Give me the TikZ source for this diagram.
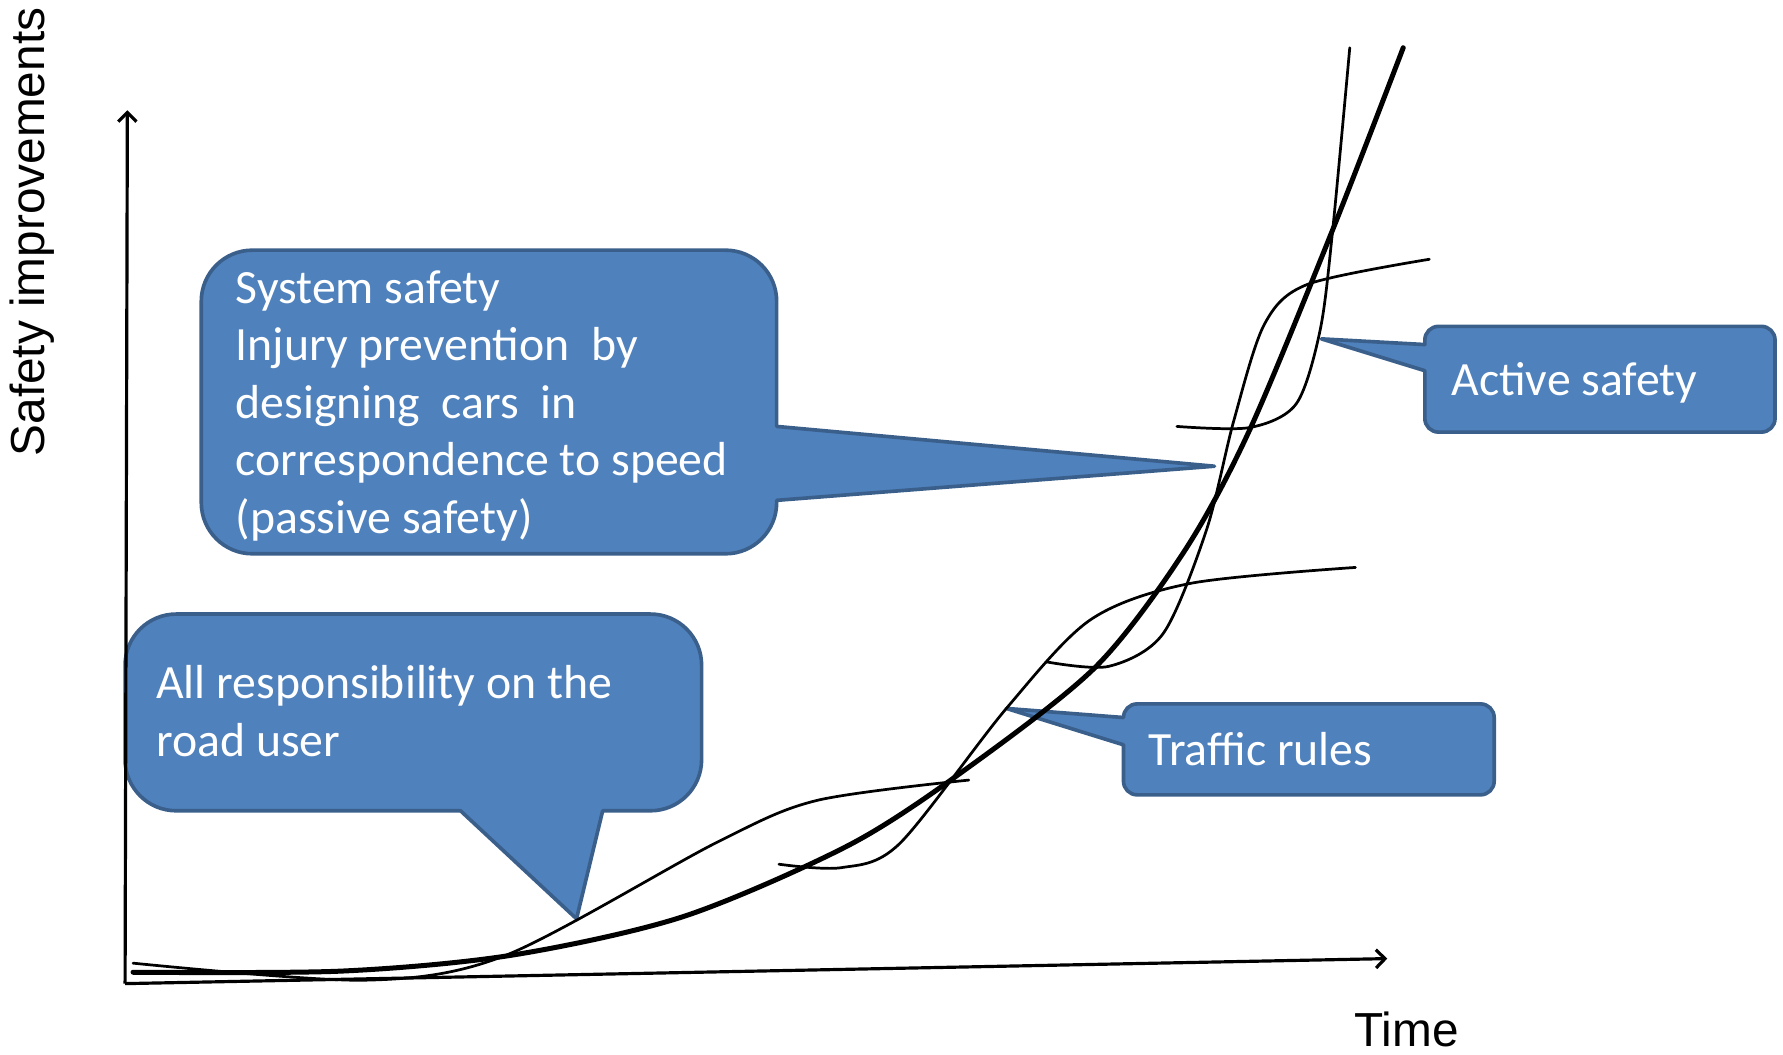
\documentclass[tikz,border=0pt]{standalone}
\usepackage{fontspec}
\setmainfont{Carlito}
\newfontfamily\axisfont{Liberation Sans}
\usetikzlibrary{positioning,arrows.meta}
\definecolor{callfill}{HTML}{4F81BD}
\definecolor{calldraw}{HTML}{3A5F8B}

\begin{document}
\begin{tikzpicture}[x=0.5pt, y=-0.5pt,
	callbox/.style={fill=callfill, draw=calldraw, line width=1.6pt, line join=round},
	calltext/.style={text=white, anchor=base west, inner sep=0pt, align=left, font=\fontsize{21}{25.3}\selectfont},
	axislabel/.style={inner sep=0pt, font=\axisfont\fontsize{21}{25}\selectfont},
	axisline/.style={line width=1.4pt, -{Straight Barb[length=4pt, width=8pt]}},
	bigcurve/.style={line width=2.2pt, line cap=round},
	scurve/.style={line width=1.2pt, line cap=round}]
	\useasboundingbox (0,0) rectangle (1568,927);

	% callouts
	\draw[callbox] (683,440) -- (683,442) arc[start angle=0, end angle=90, radius=45] -- (222,487) arc[start angle=90, end angle=180, radius=45] -- (177,265) arc[start angle=180, end angle=270, radius=45] -- (638,220) arc[start angle=270, end angle=360, radius=45] -- (683,375) -- (1068,410) -- cycle;
	\draw[callbox] (530,713) -- (572,713) arc[start angle=90, end angle=0, radius=45] -- (617,585) arc[start angle=0, end angle=-90, radius=45] -- (155,540) arc[start angle=270, end angle=180, radius=45] -- (110,668) arc[start angle=180, end angle=90, radius=45] -- (405,713) -- (507,808) -- cycle;
	\draw[callbox] (1253,326) -- (1253,368) arc[start angle=180, end angle=90, radius=12] -- (1549,380) arc[start angle=90, end angle=0, radius=12] -- (1561,299) arc[start angle=0, end angle=-90, radius=12] -- (1265,287) arc[start angle=270, end angle=180, radius=12] -- (1253,303) -- (1162,298) -- cycle;
	\draw[callbox] (988,655) -- (988,687) arc[start angle=180, end angle=90, radius=12] -- (1302,699) arc[start angle=90, end angle=0, radius=12] -- (1314,631) arc[start angle=0, end angle=-90, radius=12] -- (1000,619) arc[start angle=270, end angle=180, radius=12] -- (988,631) -- (885,623) -- cycle;

	% texts (base = last line)
	\node[calltext] (passive) at (207,469) {System safety\\Injury prevention\ \ by\\designing\ \ cars\ \ in\\correspondence to speed\\(passive safety)};
	\node[calltext] (roaduser) at (137,665) {All responsibility on the\\road user};
	\node[calltext] (active) at (1276,348) {Active safety};
	\node[calltext] (rules) at (1010,673) {Traffic rules};

	% axes
	\coordinate (origin) at (110,865);
	\coordinate (ytop) at (112,97);
	\coordinate (xend) at (1220,843);
	\draw[axisline] (origin) -- (ytop);
	\draw[axisline] (origin) -- (xend);
	\node[axislabel, rotate=90] (ylabel) at (28,204) {Safety improvements};
	\node[axislabel, anchor=base] (xlabel) at (1237,920) {Time};

	% curves
	\draw[bigcurve] plot[smooth] coordinates {(117,855) (300,854) (450,840) (601,806) (747,743) (850,676) (964,586) (1042,484) (1099,378) (1172,202) (1234,42)};
	\draw[scurve] plot[smooth] coordinates {(117,847) (320,862) (445,840) (630,741) (718,704) (852,686)};
	\draw[scurve] plot[smooth] coordinates {(685,760) (740,763) (791,742) (885,623) (959,545) (1047,513) (1192,499)};
	\draw[scurve] plot[smooth] coordinates {(920,582) (975,586) (1023,557) (1061,466) (1085,370) (1112,285) (1150,250) (1257,228)};
	\draw[scurve] plot[smooth] coordinates {(1035,375) (1099,376) (1140,355) (1161,290) (1172,202) (1187,42)};
\end{tikzpicture}
\end{document}
